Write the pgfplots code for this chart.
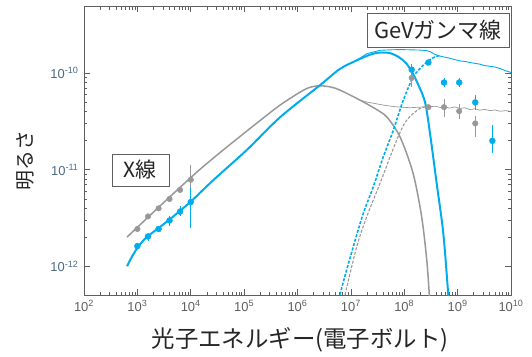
\documentclass[border=0pt]{standalone}
\usepackage{pgfplots}
\pgfplotsset{compat=1.18}
\usepackage{fontspec}
\setmainfont{Liberation Sans}
\newfontfamily\cjk{Noto Sans CJK JP}
\definecolor{cblue}{RGB}{0,172,236}
\definecolor{cgray}{RGB}{152,152,152}
\definecolor{axgray}{RGB}{95,95,95}
\definecolor{ylab}{RGB}{75,105,135}
\definecolor{xlab}{RGB}{95,95,95}
\begin{document}
\begin{tikzpicture}
\begin{axis}[
  scale only axis, width=427bp, height=289bp,
  xmode=log, ymode=log,
  xmin=1e2, xmax=1e10, ymin=5.1e-13, ymax=4.9e-10,
  axis line style={axgray, line width=0.8pt},
  tick style={axgray, line width=0.6pt},
  major tick length=6bp, minor tick length=3.5bp,
  xtick={1e2,1e3,1e4,1e5,1e6,1e7,1e8,1e9,1e10},
  ytick={1e-12,1e-11,1e-10},
  log number format basis/.code 2 args={#1\textsuperscript{\pgfmathprintnumber{#2}}},
  /pgf/number format/assume math mode=true,
  xticklabel style={font=\fontsize{13}{14}\selectfont, text=xlab, yshift=-2bp},
  yticklabel style={font=\fontsize{13}{14}\selectfont, text=ylab, xshift=-2bp},
  xlabel={\cjk 光子エネルギー(電子ボルト)},
  xlabel style={font=\fontsize{23.5}{26}\selectfont, text=black!85, at={(axis description cs:0.506,-0.156)}, anchor=center},
  ylabel={\cjk 明るさ},
  ylabel style={font=\fontsize{20}{22}\selectfont, text=black!85, at={(axis description cs:-0.138,0.464)}, anchor=center, rotate=0},
  error bars/error bar style={line width=0.6pt},
]
% gray model (solid)
\addplot[cgray, line width=1.5pt, smooth] coordinates {
 (640,2.02e-12) (1.49e4,1.01e-11) (3.05e5,3.88e-11) (7.23e5,5.44e-11) (1.49e6,6.9e-11)
 (2.45e6,7.35e-11) (4.06e6,7.18e-11) (6.26e6,6.64e-11) (1.48e7,5.24e-11)
 (2.96e7,4.22e-11) (4.75e7,3.49e-11) (8.32e7,2.19e-11) (1.46e8,9.25e-12)
 (2.12e8,3.27e-12) (2.64e8,1.17e-12) (2.95e8,5.1e-13) (3.1e8,3e-13)};
% thin gray total
\addplot[cgray, line width=0.7pt] coordinates {
 (1.48e7,5.24e-11) (2.0e7,5.0e-11) (2.6e7,4.87e-11) (4.36e7,4.62e-11) (7.21e7,4.46e-11)
 (1.28e8,4.37e-11) (2.28e8,4.45e-11) (3.77e8,4.52e-11) (5.0e8,4.38e-11) (5.8e8,4.48e-11)
 (7e8,4.33e-11) (8.93e8,4.45e-11) (1.1e9,4.3e-11) (1.37e9,4.36e-11) (1.7e9,4.18e-11)
 (2.12e9,4.26e-11) (2.6e9,4.12e-11) (3.2e9,4.2e-11) (4.04e9,4.08e-11) (5e9,4.14e-11)
 (6.3e9,4.02e-11) (8e9,4.08e-11) (1e10,4.0e-11)};
% gray dashed
\addplot[cgray, line width=1.1pt, dash pattern=on 3pt off 1.6pt, smooth] coordinates {
 (6.5e6,3e-13) (7.76e6,5.1e-13) (1.29e7,1.61e-12) (1.98e7,3.27e-12) (3.51e7,7.24e-12)
 (7.21e7,2.02e-11) (1.11e8,3.25e-11) (1.97e8,4.29e-11) (3.04e8,4.5e-11)};
% blue thick model
\addplot[cblue, line width=2pt, smooth] coordinates {
 (640,1.01e-12) (793,1.27e-12) (984,1.54e-12) (1222,1.80e-12) (1581,2.07e-12)
 (3750,2.98e-12) (9680,4.62e-12) (2.65e4,7.83e-12) (1.12e5,1.60e-11) (4.70e5,3.48e-11)
 (2.64e6,7.47e-11) (6.25e6,1.10e-10)
 (1.30e7,1.35e-10) (2.28e7,1.54e-10) (3.36e7,1.62e-10) (5.4e7,1.6e-10)
 (7.98e7,1.45e-10) (1.08e8,1.26e-10) (1.40e8,1.02e-10) (1.81e8,7.65e-11)
 (2.45e8,4.99e-11) (3.04e8,2.37e-11) (4.05e8,7.24e-12) (5.39e8,2.21e-12)
 (6.68e8,5.1e-13) (7.1e8,3e-13)};
% thin blue total
\addplot[cblue, line width=0.9pt] coordinates {
 (1.19e7,1.32e-10) (2.0e7,1.58e-10) (3.51e7,1.71e-10) (5.5e7,1.73e-10) (8.3e7,1.74e-10)
 (1.3e8,1.73e-10) (1.97e8,1.72e-10) (2.6e8,1.70e-10) (3.04e8,1.66e-10) (3.6e8,1.57e-10)
 (4.48e8,1.50e-10) (5.2e8,1.47e-10) (6.32e8,1.44e-10) (8e8,1.39e-10) (1.11e9,1.33e-10)
 (1.4e9,1.31e-10) (1.71e9,1.28e-10) (2.2e9,1.25e-10) (2.63e9,1.23e-10) (3.2e9,1.19e-10)
 (4.04e9,1.17e-10) (5e9,1.15e-10) (6.23e9,1.11e-10) (8e9,1.05e-10) (1e10,1.01e-10)};
% blue dashed
\addplot[cblue, line width=1.6pt, dash pattern=on 3pt off 1.6pt, smooth] coordinates {
 (5.6e6,3e-13) (6.25e6,5.1e-13) (1.11e7,1.61e-12) (1.71e7,3.55e-12) (2.63e7,6.68e-12)
 (4.05e7,1.36e-11) (6.24e7,2.56e-11) (9.6e7,5.24e-11) (1.48e8,9.1e-11)
 (2.28e8,1.2e-10) (3.27e8,1.41e-10) (4.68e8,1.52e-10)};
% gray data
\addplot[only marks, mark=*, mark size=2.8bp, cgray,
  error bars/.cd, y dir=both, y explicit, error mark=none] coordinates {
 (1000,2.45e-12) +- (0,0.15e-12)
 (1580,3.3e-12) +- (0,0.2e-12)
 (2500,4.0e-12) +- (0,0.25e-12)
 (4000,5.0e-12) +- (0,0.3e-12)
 (6300,6.2e-12) +- (0,0.4e-12)
 (10000,7.9e-12) += (0,3.3e-12) -= (0,1.7e-12)
 (1.38e8,8.88e-11) += (0,0.98e-11) -= (0,1.7e-11)
 (2.83e8,4.43e-11) +- (0,0.2e-11)
 (5.56e8,4.43e-11) += (0,1.01e-11) -= (0,0.91e-11)
 (1.07e9,4.03e-11) += (0,0.73e-11) -= (0,0.72e-11)
 (2.14e9,3.01e-11) += (0,0.57e-11) -= (0,0.82e-11)};
% blue data
\addplot[only marks, mark=*, mark size=3bp, cblue,
  error bars/.cd, y dir=both, y explicit, error mark=none] coordinates {
 (1000,1.63e-12) +- (0,0.1e-12)
 (1580,2.05e-12) +- (0,0.2e-12)
 (2500,2.45e-12) +- (0,0.15e-12)
 (4000,3.0e-12) +- (0,0.35e-12)
 (6300,3.70e-12) += (0,0.5e-12) -= (0,0.39e-12)
 (10000,4.65e-12) += (0,1.82e-12) -= (0,2.15e-12)
 (1.38e8,1.08e-10) += (0,0.17e-10) -= (0,0.09e-10)
 (2.83e8,1.28e-10) +- (0,0.05e-10)
 (5.56e8,7.96e-11) += (0,0.94e-11) -= (0,0.86e-11)
 (1.07e9,7.96e-11) += (0,0.94e-11) -= (0,0.86e-11)
 (2.14e9,4.96e-11) += (0,0.93e-11) -= (0,0.84e-11)
 (4.47e9,1.99e-11) += (0,0.9e-11) -= (0,0.51e-11)};
% annotation boxes
\node[draw=axgray, line width=0.7pt, fill=white, minimum width=57bp, minimum height=32bp,
  inner sep=0pt, font=\fontsize{21}{23}\selectfont\cjk, text=black!85]
  at (rel axis cs:0.132,0.433) {X線};
\node[draw=axgray, line width=0.7pt, fill=white, minimum width=142bp, minimum height=34bp,
  inner sep=0pt, font=\fontsize{22}{24}\selectfont\cjk, text=black!85]
  at (rel axis cs:0.829,0.917) {GeVガンマ線};
\end{axis}
\path (current axis.south west) ++(-84bp,-62bp) rectangle ++(532bp,357bp);
\end{tikzpicture}
\end{document}
